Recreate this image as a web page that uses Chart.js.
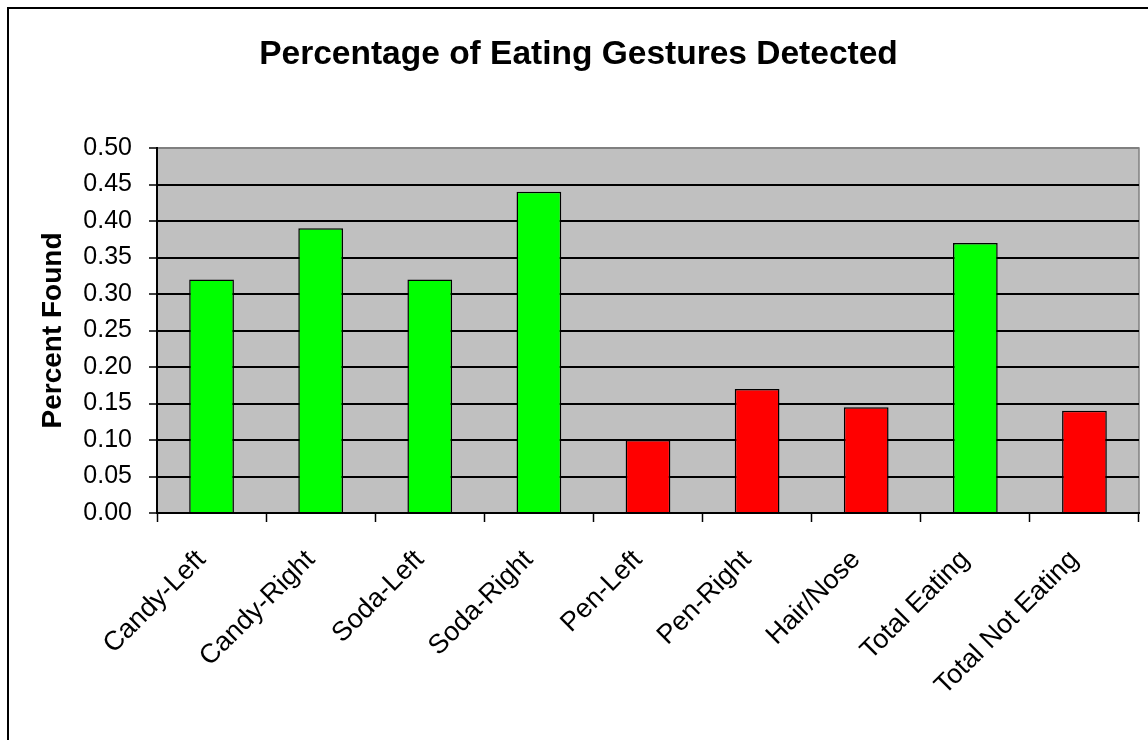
<!DOCTYPE html>
<html>
<head>
<meta charset="utf-8">
<style>
  html, body { margin: 0; padding: 0; background: #ffffff; }
  #wrap { width: 1148px; height: 740px; }
</style>
<script src="https://cdn.jsdelivr.net/npm/chart.js@4/dist/chart.umd.min.js"></script>
</head>
<body>
<div id="wrap"><canvas id="chart" width="1148" height="740"></canvas></div>
<script>
// Gesture categories and the share of each that was detected
const categories = ['Candy-Left', 'Candy-Right', 'Soda-Left', 'Soda-Right', 'Pen-Left', 'Pen-Right', 'Hair/Nose', 'Total Eating', 'Total Not Eating'];
const percentFound = [0.32, 0.39, 0.32, 0.44, 0.10, 0.17, 0.145, 0.37, 0.14];
// true = eating gesture (green), false = non-eating gesture (red)
const eatingGesture = [true, true, true, true, false, false, false, true, false];
const yTicks = ['0.00', '0.05', '0.10', '0.15', '0.20', '0.25', '0.30', '0.35', '0.40', '0.45', '0.50'];

const FONT = '"Liberation Sans", Arial, sans-serif';
const PLOT_LEFT = 157, PLOT_BOTTOM = 513, PAD_LEFT = 18;

// White page with the dark frame line on the left and top, gray plot area
const backdrop = {
  id: 'backdrop',
  beforeDraw(chart) {
    const { ctx, chartArea: a } = chart;
    ctx.save();
    ctx.fillStyle = '#ffffff';
    ctx.fillRect(0, 0, chart.width, chart.height);
    ctx.strokeStyle = '#000000';
    ctx.lineWidth = 2;
    ctx.beginPath();
    ctx.moveTo(8, chart.height);
    ctx.lineTo(8, 8);
    ctx.lineTo(chart.width, 8);
    ctx.stroke();
    ctx.fillStyle = '#c0c0c0';
    ctx.fillRect(a.left, a.top, a.right - a.left, a.bottom - a.top);
    ctx.strokeStyle = '#808080';
    ctx.lineWidth = 1.5;
    ctx.strokeRect(a.left, a.top, a.right - a.left, a.bottom - a.top);
    ctx.restore();
  }
};

new Chart(document.getElementById('chart'), {
  type: 'bar',
  data: {
    labels: categories,
    datasets: [{
      data: percentFound,
      backgroundColor: eatingGesture.map(e => e ? '#00ff00' : '#ff0000'),
      borderColor: '#000000',
      borderWidth: 1.5,
      borderSkipped: 'bottom',
      barPercentage: 0.41,
      categoryPercentage: 1.0
    }]
  },
  options: {
    responsive: false,
    animation: false,
    devicePixelRatio: 1,
    layout: { padding: { left: PAD_LEFT, right: 9, top: 0, bottom: 0 } },
    plugins: {
      legend: { display: false },
      tooltip: { enabled: false },
      title: {
        display: true,
        text: 'Percentage of Eating Gestures Detected',
        color: '#000000',
        font: { family: FONT, size: 33.5, weight: 'bold', lineHeight: 1.2 },
        padding: { top: 35, bottom: 72.8 }
      }
    },
    scales: {
      x: {
        offset: true,
        grid: { display: true, drawOnChartArea: false, drawTicks: true, tickLength: 9, tickColor: '#000000', tickWidth: 1.5, offset: true },
        border: { display: true, color: '#000000', width: 2 },
        ticks: {
          color: '#000000',
          font: { family: FONT, size: 27 },
          minRotation: 45,
          maxRotation: 45,
          autoSkip: false,
          padding: 22,
          labelOffset: -10
        },
        afterFit(scale) { scale.height = 740 - PLOT_BOTTOM; }
      },
      y: {
        min: 0,
        max: 0.5,
        ticks: {
          stepSize: 0.05,
          color: '#000000',
          font: { family: FONT, size: 25 },
          padding: 17,
          callback: (v) => yTicks[Math.round(v / 0.05)]
        },
        grid: {
          color: (c) => (c.tick && Math.abs(c.tick.value - 0.5) < 1e-9) ? '#808080' : '#000000',
          lineWidth: 2,
          tickColor: '#000000',
          tickLength: 8,
          tickWidth: 1.5
        },
        border: { display: true, color: '#000000', width: 2 },
        title: {
          display: true,
          text: 'Percent Found',
          color: '#000000',
          font: { family: FONT, size: 28, weight: 'bold', lineHeight: 1.2 },
          padding: { top: 18, bottom: 0 }
        },
        afterFit(scale) { scale.width = PLOT_LEFT - PAD_LEFT; }
      }
    }
  },
  plugins: [backdrop]
});
</script>
</body>
</html>
